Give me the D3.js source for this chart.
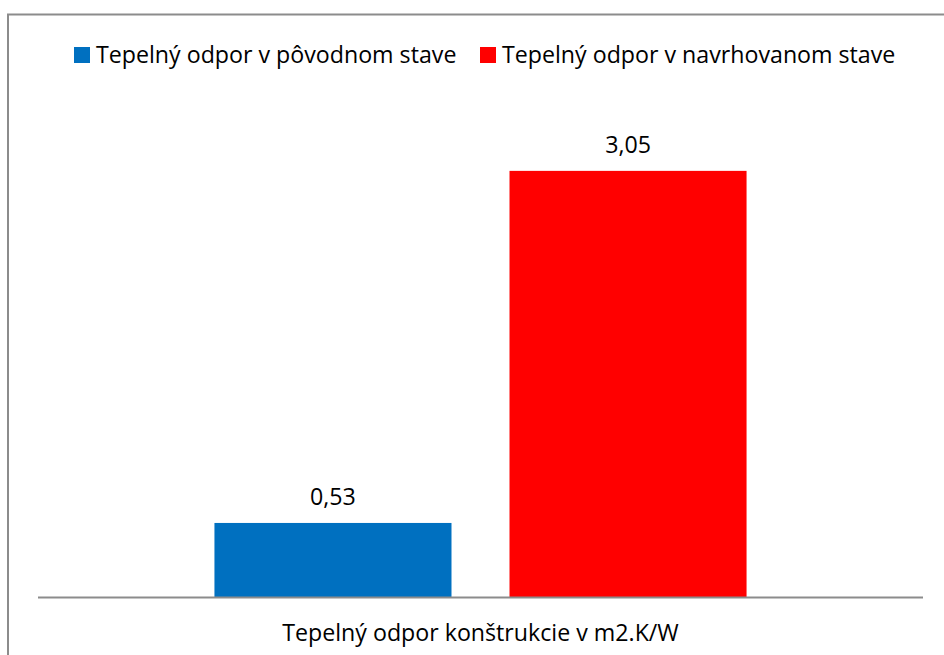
<!DOCTYPE html>
<html><head><meta charset="utf-8">
<script src="https://cdn.jsdelivr.net/npm/d3@7"></script>
<style>body{margin:0;background:#fff}svg{display:block}text{font-family:"Open Sans",sans-serif;fill:#000}</style>
</head><body><svg id="c" width="944" height="655"></svg>
<script>
const categories = ["Tepelný odpor konštrukcie v m2.K/W"];
const seriesNames = ["Tepelný odpor v pôvodnom stave", "Tepelný odpor v navrhovanom stave"];
const seriesValues = [0.53, 3.05];
const valueLabels = ["0,53", "3,05"];
const colors = ["#0070C0", "#FF0000"];

const svg = d3.select("#c");
const plot = {left: 38, right: 923, top: 108, bottom: 597};
const FS = 23.2;

// outer frame (extends past right/bottom edges)
svg.append("rect").attr("x", 8).attr("y", 14.5).attr("width", 1000).attr("height", 1000)
  .attr("fill", "none").attr("stroke", "#8c8c8c").attr("stroke-width", 2);

const x0 = d3.scaleBand().domain(categories).range([plot.left, plot.right]).paddingInner(0).paddingOuter(0);
const x1 = d3.scaleBand().domain(seriesNames).range([0, x0.bandwidth()]).paddingInner(0.1966).paddingOuter(0.598);
const y = d3.scaleLinear().domain([0, 3.5]).range([plot.bottom, plot.top]);

const g = svg.append("g");
categories.forEach(cat => {
  seriesNames.forEach((s, i) => {
    const bx = x0(cat) + x1(s);
    g.append("rect").attr("x", bx).attr("y", y(seriesValues[i]))
      .attr("width", x1.bandwidth()).attr("height", y(0) - y(seriesValues[i]))
      .attr("fill", colors[i]);
    g.append("text").attr("x", bx + x1.bandwidth() / 2).attr("y", y(seriesValues[i]) - 18)
      .attr("text-anchor", "middle").attr("font-size", FS).text(valueLabels[i]);
  });
});

// axis
const axis = d3.axisBottom(x0).tickSize(0);
const ax = svg.append("g").attr("transform", `translate(0,${plot.bottom})`).call(axis);
ax.select(".domain").attr("stroke", "#8c8c8c").attr("stroke-width", 2).attr("d", `M${plot.left},0.5H${plot.right}`);
ax.selectAll(".tick text").attr("font-size", FS).attr("font-family", '"Open Sans",sans-serif').attr("fill", "#000")
  .attr("dy", null).attr("y", 44);

// legend
const legX = [74, 480];
seriesNames.forEach((s, i) => {
  svg.append("rect").attr("x", legX[i]).attr("y", 47).attr("width", 16).attr("height", 16).attr("fill", colors[i]);
  svg.append("text").attr("x", legX[i] + 22).attr("y", 62.5).attr("font-size", FS).text(s);
});
</script></body></html>
